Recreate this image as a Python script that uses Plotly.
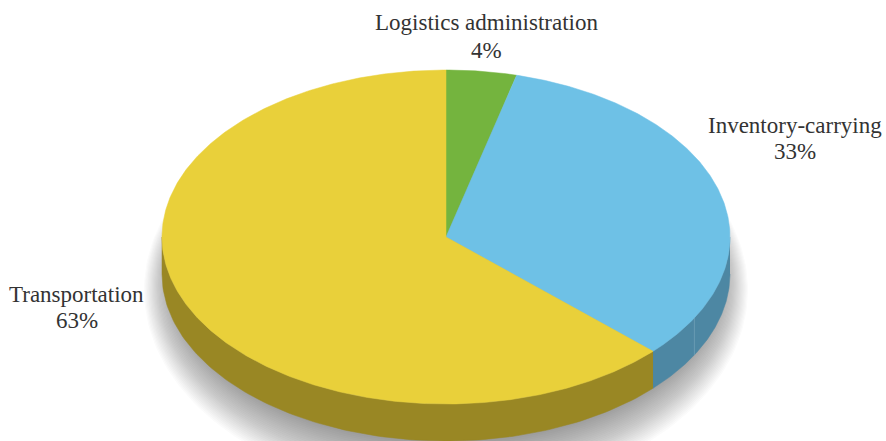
import numpy as np
import plotly.graph_objects as go

# Cost shares, clockwise from twelve o'clock
categories = ["Logistics administration", "Inventory-carrying", "Transportation"]
shares = [4, 33, 63]
top_colors = ["#74B43E", "#6EC1E6", "#E9D03A"]
wall_colors = ["#4F7A2A", "#4D87A3", "#998724"]
name_xy = [(486, 22), (795, 125), (76.5, 294)]
value_xy = [(486, 50), (795, 151), (76.5, 320)]

# Pie geometry in pixel-sized axis units
CX, CY = 446, 237
RX, RY = 284, 167
DEPTH = 37
WALL_SEAM_DEG = 119
SHADOW_LAYERS = 30
LABEL_FONT = dict(family="Liberation Serif", size=23, color="#333333")


def rim(deg, drop=0.0):
    t = np.radians(deg)
    return CX + RX * np.sin(t), CY - RY * np.cos(t) + drop


def ribbon(a, b, color):
    """Side wall of the disc between two clockwise angles."""
    deg = np.linspace(a, b, 120)
    x1, y1 = rim(deg)
    x2, y2 = rim(deg[::-1], DEPTH)
    return go.Scatter(
        x=np.r_[x1, x2], y=np.r_[y1, y2], mode="lines", fill="toself",
        fillcolor=color, line=dict(color=color, width=0.5), hoverinfo="skip",
    )


def wedge(a, b, color):
    deg = np.linspace(a, b, max(int(b - a) * 2, 12))
    x, y = rim(deg)
    return go.Scatter(
        x=np.r_[CX, x, CX], y=np.r_[CY, y, CY], mode="lines", fill="toself",
        fillcolor=color, line=dict(color=color, width=0.5), hoverinfo="skip",
    )


fig = go.Figure()

# Soft drop shadow: stacked translucent ellipses, widest first
full = np.radians(np.linspace(0, 360, 240))
for i in range(SHADOW_LAYERS):
    fade = 1 - i / (SHADOW_LAYERS - 1)
    fig.add_trace(go.Scatter(
        x=CX + (270 + 32 * fade) * np.sin(full),
        y=(280 + 10 * fade) - (160 + 45 * fade) * np.cos(full),
        mode="lines", fill="toself", fillcolor="rgba(60,60,65,0.021)",
        line=dict(width=0), hoverinfo="skip",
    ))

edges = np.r_[0, np.cumsum(shares)] * 3.6

# Side walls exist only on the front half of the disc
for k in range(len(shares)):
    a, b = max(edges[k], 90), min(edges[k + 1], 270)
    if b > a:
        fig.add_trace(ribbon(a, b, wall_colors[k]))

sx, sy = rim(WALL_SEAM_DEG)
fig.add_trace(go.Scatter(
    x=[sx, sx], y=[sy, sy + DEPTH], mode="lines",
    line=dict(color="#6E9FB6", width=0.8), hoverinfo="skip",
))

for k in range(len(shares)):
    fig.add_trace(wedge(edges[k], edges[k + 1], top_colors[k]))

for name, value, (nx, ny), (vx, vy) in zip(categories, shares, name_xy, value_xy):
    fig.add_annotation(x=nx, y=ny, xref="x", yref="y", showarrow=False,
                       text=name, font=LABEL_FONT)
    fig.add_annotation(x=vx, y=vy, xref="x", yref="y", showarrow=False,
                       text=f"{value}%", font=LABEL_FONT)

fig.update_layout(
    width=886, height=441, showlegend=False,
    margin=dict(l=0, r=0, t=0, b=0),
    paper_bgcolor="white", plot_bgcolor="white",
    xaxis=dict(range=[0, 886], visible=False, fixedrange=True),
    yaxis=dict(range=[441, 0], visible=False, fixedrange=True),
)
fig.write_html("out.html", config={"displayModeBar": False})
